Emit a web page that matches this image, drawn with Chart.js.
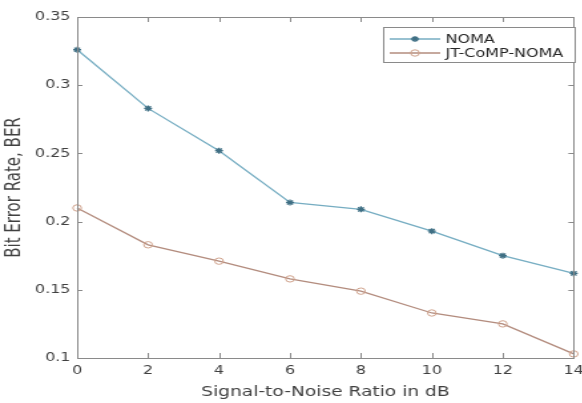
<!DOCTYPE html>
<html>
<head>
<meta charset="utf-8">
<script src="https://cdn.jsdelivr.net/npm/chart.js@4/dist/chart.umd.min.js"></script>
<style>
html,body{margin:0;padding:0;background:#fff;overflow:hidden;width:582px;height:403px;}
#wrap{position:absolute;left:0;top:0;width:445px;height:403px;transform:scale(1.33,1);transform-origin:0 0;}
</style>
</head>
<body>
<div id="wrap"><canvas id="c" width="445" height="403" style="width:445px;height:403px"></canvas></div>
<script>
const snr = [0, 2, 4, 6, 8, 10, 12, 14];
const noma = [0.326, 0.283, 0.252, 0.214, 0.209, 0.193, 0.175, 0.162];
const jtComp = [0.210, 0.183, 0.171, 0.158, 0.149, 0.133, 0.125, 0.103];
const xTicks = [0, 2, 4, 6, 8, 10, 12, 14];
const yTicks = [0.1, 0.15, 0.2, 0.25, 0.3, 0.35];
const seriesNames = ['NOMA', 'JT-CoMP-NOMA'];
const xTitle = 'Signal-to-Noise Ratio in dB';
const yTitle = 'Bit Error Rate, BER';

const AXIS = '#8a8a8a';
const TXT = '#404040';
const FONT = 'DejaVu Sans';

const boxPlugin = {
  id: 'boxPlugin',
  afterDatasetsDraw(chart) {
    const {ctx, chartArea: a, scales} = chart;
    ctx.save();
    ctx.strokeStyle = AXIS;
    ctx.lineWidth = 1;
    ctx.strokeRect(Math.round(a.left) + 0.5, Math.round(a.top) + 0.5, Math.round(a.right - a.left), Math.round(a.bottom - a.top));
    ctx.beginPath();
    scales.x.ticks.forEach(t => {
      const x = Math.round(scales.x.getPixelForValue(t.value)) + 0.5;
      ctx.moveTo(x, a.bottom); ctx.lineTo(x, a.bottom - 5);
      ctx.moveTo(x, a.top); ctx.lineTo(x, a.top + 5);
    });
    scales.y.ticks.forEach(t => {
      const y = Math.round(scales.y.getPixelForValue(t.value)) + 0.5;
      ctx.moveTo(a.left, y); ctx.lineTo(a.left + 4, y);
      ctx.moveTo(a.right, y); ctx.lineTo(a.right - 4, y);
    });
    ctx.stroke();
    ctx.restore();
  }
};

const legendPlugin = {
  id: 'legendPlugin',
  afterDraw(chart) {
    const {ctx} = chart;
    const bx = 288, by = 27, bw = 144, bh = 35;
    ctx.save();
    ctx.fillStyle = '#fff';
    ctx.fillRect(bx, by, bw, bh);
    ctx.strokeStyle = AXIS;
    ctx.lineWidth = 1;
    ctx.strokeRect(bx + 0.5, by + 0.5, bw, bh);
    chart.data.datasets.forEach((ds, i) => {
      const y = by + 12 + i * 14;
      ctx.strokeStyle = ds.borderColor;
      ctx.lineWidth = ds.borderWidth;
      ctx.beginPath();
      ctx.moveTo(bx + 5, y); ctx.lineTo(bx + 43, y);
      ctx.stroke();
      ctx.fillStyle = ds.pointBackgroundColor;
      ctx.strokeStyle = ds.pointBorderColor;
      ctx.lineWidth = ds.pointBorderWidth;
      Chart.helpers.drawPoint(ctx, {
        pointStyle: ds.pointStyle, radius: ds.pointRadius, rotation: 0,
        borderWidth: ds.pointBorderWidth
      }, bx + 24, y);
      ctx.fillStyle = '#262626';
      ctx.font = '12px "' + FONT + '"';
      ctx.textBaseline = 'middle';
      ctx.textAlign = 'left';
      ctx.fillText(ds.label, bx + 47, y + 1);
    });
    ctx.restore();
  }
};

new Chart(document.getElementById('c'), {
  type: 'line',
  data: {
    datasets: [
      {
        label: seriesNames[0],
        data: snr.map((x, i) => ({x, y: noma[i]})),
        borderColor: '#76adc2',
        borderWidth: 1.3,
        pointStyle: 'star',
        pointRadius: 3,
        pointBorderWidth: 1.3,
        pointBorderColor: '#3f6f84',
        pointBackgroundColor: '#3f6f84',
        tension: 0
      },
      {
        label: seriesNames[1],
        data: snr.map((x, i) => ({x, y: jtComp[i]})),
        borderColor: '#b38c7e',
        borderWidth: 1.3,
        pointStyle: 'circle',
        pointRadius: 3.2,
        pointBorderWidth: 1,
        pointBorderColor: '#cfa28c',
        pointBackgroundColor: 'rgba(255,255,255,0)',
        tension: 0
      }
    ]
  },
  options: {
    responsive: false,
    animation: false,
    devicePixelRatio: 1,
    clip: false,
    layout: {padding: {left: 0, right: 11, top: 17, bottom: 0}},
    plugins: {legend: {display: false}, tooltip: {enabled: false}},
    scales: {
      x: {
        type: 'linear',
        min: 0, max: 14,
        afterBuildTicks: s => { s.ticks = xTicks.map(v => ({value: v})); },
        afterFit: s => { s.height = 45; },
        grid: {display: false, drawTicks: false},
        border: {display: false},
        ticks: {color: TXT, font: {family: FONT, size: 12}, padding: 6, maxRotation: 0,
                callback: v => String(v)},
        title: {display: true, text: xTitle, color: TXT, font: {family: FONT, size: 14}, padding: {top: 0, bottom: 2}}
      },
      y: {
        type: 'linear',
        min: 0.1, max: 0.35,
        afterBuildTicks: s => { s.ticks = yTicks.map(v => ({value: v})); },
        afterFit: s => { s.width = 58; },
        grid: {display: false, drawTicks: false},
        border: {display: false},
        ticks: {color: TXT, font: {family: FONT, size: 12}, padding: 5,
                callback: v => String(+v.toFixed(2))},
        title: {display: true, text: yTitle, color: TXT, font: {family: FONT, size: 15}, padding: {top: 2, bottom: 0}}
      }
    }
  },
  plugins: [boxPlugin, legendPlugin]
});
</script>
</body>
</html>
